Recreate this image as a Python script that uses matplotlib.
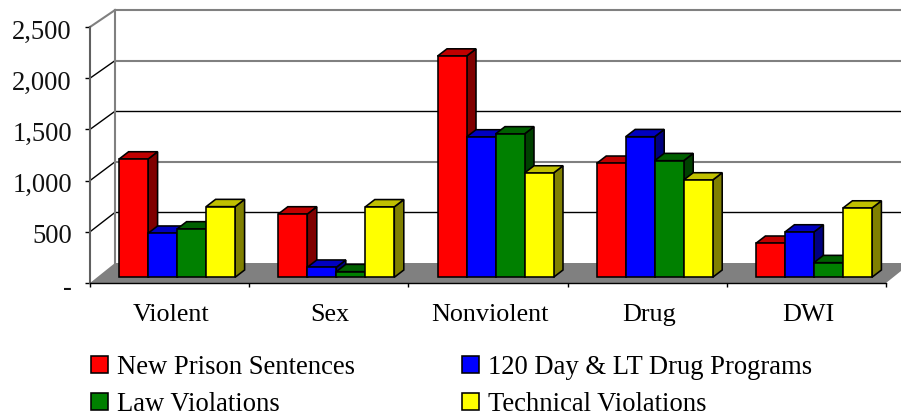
import numpy as np
import matplotlib
matplotlib.use("Agg")
import matplotlib.pyplot as plt
from matplotlib.patches import Polygon, Patch
from matplotlib.transforms import ScaledTranslation

categorias = ["Violent", "Sex", "Nonviolent", "Drug", "DWI"]
new_prison = [1155, 618, 2160, 1113, 332]
day_120 = [430, 98, 1370, 1373, 442]
law_viol = [472, 55, 1400, 1139, 143]
technical = [690, 688, 1018, 950, 676]
y_ticks = [0, 500, 1000, 1500, 2000, 2500]
y_labels = ["-", "500", "1,000", "1,500", "2,000", "2,500"]

series = [
    ("New Prison Sentences", new_prison, "#ff0000", "#c00000", "#800000"),
    ("120 Day & LT Drug Programs", day_120, "#0000ff", "#0000c0", "#000080"),
    ("Law Violations", law_viol, "#008000", "#006000", "#004000"),
    ("Technical Violations", technical, "#ffff00", "#c0c000", "#808000"),
]

plt.rcParams["font.family"] = "Liberation Serif"

W, H = 901, 417
fig = plt.figure(figsize=(W / 100, H / 100), dpi=100)
ax = fig.add_axes([90 / W, (H - 283) / H, 796 / W, 256 / H])

n = len(categorias)
px_x = 796 / n          # pixeles por categoria
px_y = 256 / 2500       # pixeles por unidad


def pared(v):
    # altura en la pared del fondo para un valor del eje
    return 20 / px_y + v * 0.988


# profundidad de piso y paredes
prof = 25 / px_x
ax.add_patch(Polygon([(0, 0), (n, 0), (n + prof, pared(0)), (prof, pared(0))],
                     facecolor="#808080", edgecolor="none", zorder=1, clip_on=False))

# lineas de la pared
colores_grid = ["#808080", "#000000", "#808080", "#000000", "#808080", "#808080"]
for v, c in zip(y_ticks, colores_grid):
    if v > 0:
        ax.plot([prof, n + prof], [pared(v), pared(v)], color=c,
                lw=1.5 if c == "#808080" else 1.0, zorder=1.5, clip_on=False)
        ax.plot([0, prof], [v, pared(v)], color="#808080" if v == 2500 else "#000000",
                lw=1.5 if v == 2500 else 1.0, zorder=1.5, clip_on=False)
ax.plot([prof, prof], [pared(0), pared(2500)], color="#808080", lw=1.5, zorder=1.5, clip_on=False)

# barras con cara frontal, superior y lateral
ancho = 29 / px_x
base = 5.7 / px_y
corr_x = 7.5 / px_x
dx = 9.5 / px_x
dy = 7.3 / px_y
z = 3
for i in range(n):
    x0 = i + 0.5 + corr_x - 2 * ancho
    for j, (nombre, valores, c_frente, c_top, c_lado) in enumerate(series):
        x = x0 + j * ancho
        top = base + valores[i]
        ax.add_patch(Polygon([(x + ancho, base), (x + ancho + dx, base + dy),
                              (x + ancho + dx, top + dy), (x + ancho, top)],
                             facecolor=c_lado, edgecolor="black", lw=1.15, zorder=z, clip_on=False))
        ax.add_patch(Polygon([(x, top), (x + dx, top + dy), (x + ancho + dx, top + dy), (x + ancho, top)],
                             facecolor=c_top, edgecolor="black", lw=1.15, zorder=z, clip_on=False))
        ax.bar(x, valores[i], width=ancho, bottom=base, align="edge", color=c_frente,
               edgecolor="black", lw=1.15, zorder=z + 0.5, clip_on=False)
        z += 1

ax.set_xlim(0, n)
ax.set_ylim(0, 2500)

ax.spines["top"].set_visible(False)
ax.spines["right"].set_visible(False)
ax.spines["left"].set_color("#606060")
ax.spines["left"].set_linewidth(1.5)
ax.spines["bottom"].set_linewidth(1.0)
ax.patch.set_alpha(0)

ax.set_yticks(y_ticks)
ax.set_yticklabels(y_labels, fontsize=19.2, color="#111111", va="center")
ax.tick_params(axis="y", length=3.5, width=1, pad=9.5)
bajar = ScaledTranslation(0, -5 / 100, fig.dpi_scale_trans)
for lab in ax.get_yticklabels():
    lab.set_transform(lab.get_transform() + bajar)

ax.set_xticks(np.arange(n + 1))
ax.set_xticklabels([])
ax.set_xticks(np.arange(n) + 0.5, minor=True)
ax.set_xticklabels(categorias, minor=True, fontsize=18.8)
ax.tick_params(axis="x", which="major", length=3, width=1)
ax.tick_params(axis="x", which="minor", length=0, pad=15)
derecha = ScaledTranslation(1.5 / 100, 0, fig.dpi_scale_trans)
for lab in ax.get_xticklabels(minor=True):
    lab.set_transform(lab.get_transform() + derecha)

orden = [series[0], series[2], series[1], series[3]]
handles = [Patch(facecolor=s[2], edgecolor="black", lw=1.15) for s in orden]
labels = [s[0] for s in orden]
fig.legend(handles, labels, ncol=2, frameon=False, loc="lower left",
           bbox_to_anchor=(91 / W, 0 / H), fontsize=19.2,
           handlelength=0.64, handleheight=0.64, handletextpad=0.34,
           labelspacing=0.46, columnspacing=4.0, borderpad=0, borderaxespad=0)

fig.savefig("out.png", dpi=100)
plt.close(fig)
